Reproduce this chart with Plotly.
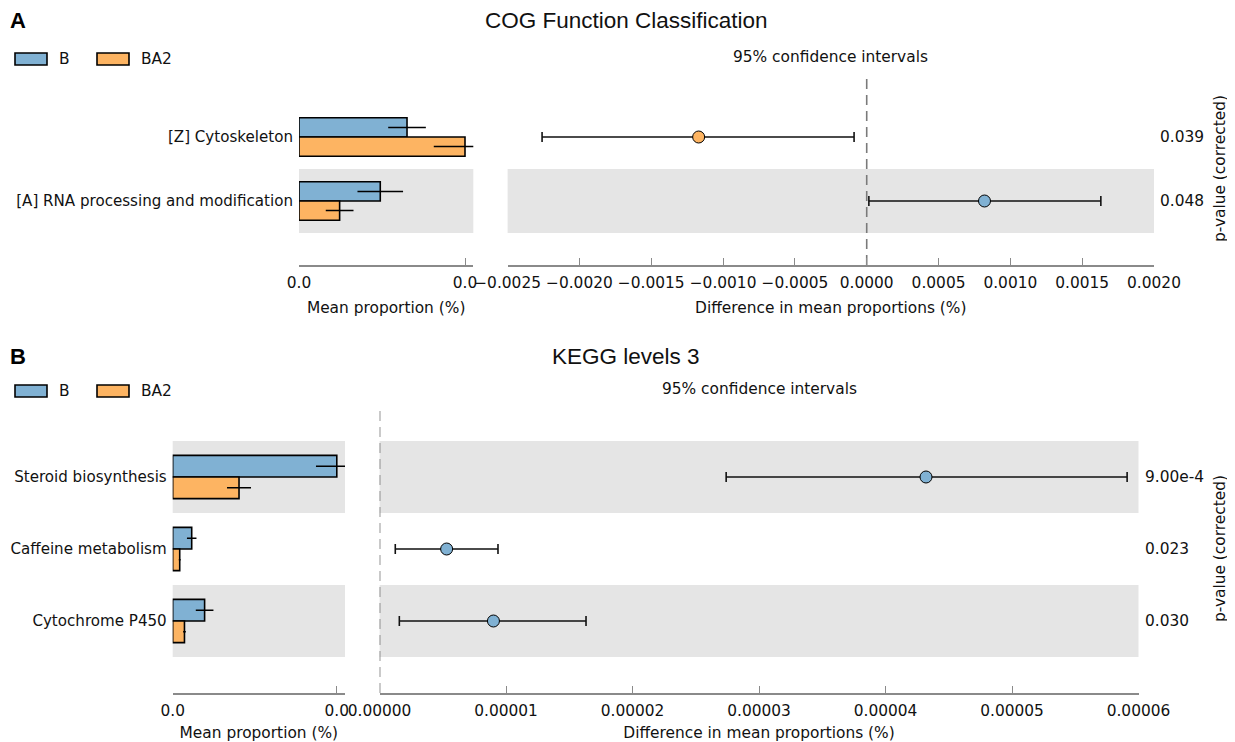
import plotly.graph_objects as go

# ---------------- data ----------------
cog_categories = ["[Z] Cytoskeleton", "[A] RNA processing and modification"]
cog_mean_B = [0.00218, 0.00164]
cog_sd_B = [0.00038, 0.00046]
cog_mean_BA2 = [0.00335, 0.00082]
cog_sd_BA2 = [0.00063, 0.00028]
cog_diff = [-0.00117, 0.00082]
cog_ci_low = [-0.00226, 0.000015]
cog_ci_high = [-0.000088, 0.00163]
cog_p = ["0.039", "0.048"]
cog_diff_ticks = [-0.0025, -0.0020, -0.0015, -0.0010, -0.0005, 0.0, 0.0005, 0.0010, 0.0015, 0.0020]

kegg_categories = ["Steroid biosynthesis", "Caffeine metabolism", "Cytochrome P450"]
kegg_mean_B = [7.25e-5, 0.84e-5, 1.41e-5]
kegg_sd_B = [0.92e-5, 0.21e-5, 0.39e-5]
kegg_mean_BA2 = [2.93e-5, 0.31e-5, 0.52e-5]
kegg_sd_BA2 = [0.53e-5, 0.04e-5, 0.06e-5]
kegg_diff = [4.32e-5, 0.53e-5, 0.90e-5]
kegg_ci_low = [2.74e-5, 0.124e-5, 0.156e-5]
kegg_ci_high = [5.91e-5, 0.936e-5, 1.632e-5]
kegg_p = ["9.00e-4", "0.023", "0.030"]
kegg_diff_ticks = [0.0, 0.00001, 0.00002, 0.00003, 0.00004, 0.00005, 0.00006]

group_names = ["B", "BA2"]
group_colors = ["#80B1D3", "#FDB462"]
panel_titles = ["COG Function Classification", "KEGG levels 3"]
panel_letters = ["A", "B"]

# page offset of the browser body (8px) is compensated here
OX, OY = 8, 8
W, H = 1227, 734
FONT = "DejaVu Sans"
FS = 15.4
FS_CAT = 15.1
TXT = "#111111"
AXC = "#8a8a8a"
BAND = "#E5E5E5"

fig = go.Figure()
shapes = []
annotations = []


def px_x(v):
    return (v - OX) / W


def px_y(v):
    return 1 - (v - OY) / H


def add_panel(idx, cats, mB, sB, mA, sA, diff, lo, hi, pvals, dticks, dfmt,
              left_px, right_px, top_px, bottom_px, legend_y, title_y):
    n = len(cats)
    rows = list(range(n - 1, -1, -1))  # top to bottom
    k = 2 * idx + 1
    xl, yl = f"x{k}" if k > 1 else "x", f"y{k}" if k > 1 else "y"
    xr, yr = f"x{k+1}", f"y{k+1}"
    ydom = [px_y(bottom_px), px_y(top_px)]
    mmax = max(max(mB), max(mA))

    # bars
    for g, (vals, sds, off) in enumerate([(mB, sB, 0.15), (mA, sA, -0.15)]):
        fig.add_trace(go.Bar(
            x=vals, y=[r + off for r in rows], orientation="h", width=0.3,
            marker=dict(color=group_colors[g], line=dict(color="black", width=1.6)),
            error_x=dict(type="data", array=sds, color="black", thickness=1.5, width=0),
            xaxis=xl, yaxis=yl, showlegend=False, name=group_names[g]))
    # difference points
    colors = [group_colors[0] if d > 0 else group_colors[1] for d in diff]
    fig.add_trace(go.Scatter(
        x=diff, y=rows, mode="markers",
        marker=dict(size=12, color=colors, line=dict(color="black", width=1)),
        error_x=dict(type="data", symmetric=False,
                     array=[h - d for h, d in zip(hi, diff)],
                     arrayminus=[d - l for d, l in zip(diff, lo)],
                     color="#111111", thickness=1.6, width=5),
        xaxis=xr, yaxis=yr, showlegend=False))

    axis_common = dict(showgrid=False, zeroline=False, showline=True, linecolor=AXC,
                       linewidth=1.6, ticks="inside", ticklen=7, tickcolor=AXC, tickwidth=1.2,
                       ticklabelstandoff=3,
                       tickfont=dict(family=FONT, size=FS, color=TXT), automargin=False)
    lkey = "xaxis" if k == 1 else f"xaxis{k}"
    fig.layout[lkey] = dict(
        domain=[px_x(left_px[0]), px_x(left_px[1])], anchor=yl, range=[0, mmax * 1.05],
        tickvals=[0, mmax], ticktext=[f"{0:.1f}", f"{mmax:.1f}"],
        title=dict(text="Mean proportion (%)", font=dict(family=FONT, size=FS, color=TXT), standoff=11),
        **axis_common)
    fig.layout[f"xaxis{k+1}"] = dict(
        domain=[px_x(right_px[0]), px_x(right_px[1])], anchor=yr,
        range=[dticks[0], dticks[-1]], tickvals=dticks, tickformat=dfmt,
        title=dict(text="Difference in mean proportions (%)", font=dict(family=FONT, size=FS, color=TXT), standoff=11),
        **axis_common)
    ykey = "yaxis" if k == 1 else f"yaxis{k}"
    fig.layout[ykey] = dict(
        domain=ydom, anchor=xl, range=[-1, n], tickvals=rows, ticktext=cats,
        showgrid=False, zeroline=False, showline=False, ticks="", ticklabelstandoff=5,
        tickfont=dict(family=FONT, size=FS_CAT, color=TXT), automargin=False)
    fig.layout[f"yaxis{k+1}"] = dict(
        domain=ydom, anchor=xr, range=[-1, n], showticklabels=False,
        showgrid=False, zeroline=False, showline=False, ticks="", automargin=False)

    # alternating bands
    for r in rows:
        if r % 2 == 0:
            for xa, ya in [(xl, yl), (xr, yr)]:
                shapes.append(dict(type="rect", xref=f"{xa} domain", yref=ya, x0=0, x1=1,
                                   y0=r - 0.5, y1=r + 0.5, fillcolor=BAND, line=dict(width=0),
                                   layer="below"))
    # zero dashed line
    shapes.append(dict(type="line", xref=xr, yref=f"{yr} domain", x0=0, x1=0, y0=0, y1=1,
                       line=dict(color="#7a7a7a", width=1.6, dash="10px,6px"), layer="below"))

    # p-values
    for r, p in zip(rows, pvals):
        annotations.append(dict(text=p, xref=f"{xr} domain", x=1, xanchor="left", xshift=4,
                                yref=yr, y=r, yanchor="middle", showarrow=False,
                                font=dict(family=FONT, size=FS, color=TXT)))
    annotations.append(dict(text="p-value (corrected)", xref="paper", x=px_x(1220), xanchor="center",
                            yref="paper", y=(ydom[0] + ydom[1]) / 2, yanchor="middle",
                            textangle=-90, showarrow=False, font=dict(family=FONT, size=FS, color=TXT)))
    annotations.append(dict(text="95% confidence intervals", xref=f"{xr} domain", x=0.5,
                            yref=f"{yr} domain", y=1, yanchor="middle", yshift=16, showarrow=False,
                            font=dict(family=FONT, size=FS, color=TXT)))
    # panel title and letter
    annotations.append(dict(text=panel_titles[idx], xref="paper", x=px_x(626), xanchor="center",
                            yref="paper", y=px_y(title_y), yanchor="middle", showarrow=False,
                            font=dict(family="Liberation Sans", size=22.5, color=TXT)))
    annotations.append(dict(text=f"<b>{panel_letters[idx]}</b>", xref="paper", x=px_x(8), xanchor="left",
                            yref="paper", y=px_y(title_y), yanchor="middle", showarrow=False,
                            font=dict(family="Liberation Sans", size=22, color="black")))
    # legend
    lx = [(15, 47, 57), (97, 129, 139)]
    for g, (x0, x1, tx) in enumerate(lx):
        shapes.append(dict(type="rect", xref="paper", yref="paper", x0=px_x(x0), x1=px_x(x1),
                           y0=px_y(legend_y + 6), y1=px_y(legend_y - 6),
                           fillcolor=group_colors[g], line=dict(color="black", width=1.6)))
        annotations.append(dict(text=group_names[g], xref="paper", x=px_x(tx), xanchor="left",
                                yref="paper", y=px_y(legend_y), yanchor="middle", showarrow=False,
                                font=dict(family=FONT, size=FS, color=TXT)))


add_panel(0, cog_categories, cog_mean_B, cog_sd_B, cog_mean_BA2, cog_sd_BA2,
          cog_diff, cog_ci_low, cog_ci_high, cog_p, cog_diff_ticks, ".4f",
          left_px=(299, 473.3), right_px=(507.6, 1154), top_px=73, bottom_px=265,
          legend_y=59, title_y=20)
add_panel(1, kegg_categories, kegg_mean_B, kegg_sd_B, kegg_mean_BA2, kegg_sd_BA2,
          kegg_diff, kegg_ci_low, kegg_ci_high, kegg_p, kegg_diff_ticks, ".5f",
          left_px=(172.7, 345), right_px=(379.6, 1138.5), top_px=405, bottom_px=693,
          legend_y=391, title_y=356)

fig.update_layout(
    width=W, height=H, margin=dict(l=0, r=0, t=0, b=0),
    paper_bgcolor="white", plot_bgcolor="white", barmode="overlay",
    shapes=shapes, annotations=annotations, showlegend=False,
    font=dict(family=FONT, size=FS, color=TXT))

fig.write_html("out.html")
